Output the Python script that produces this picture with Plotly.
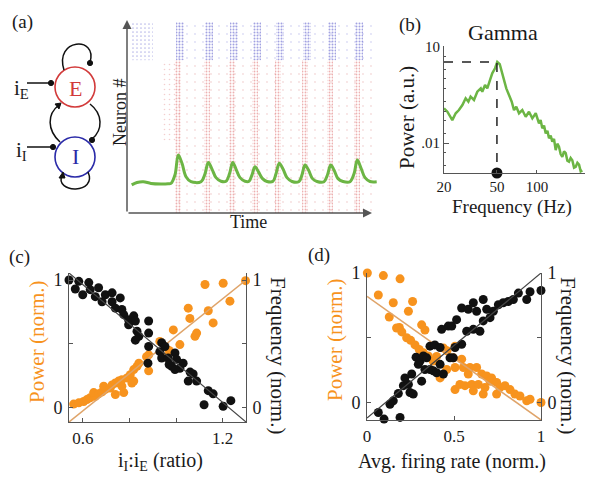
import math
import plotly.graph_objects as go

W, H = 600, 481
def px(x): return x / W
def py(y): return 1 - y / H

FONT = "Liberation Serif, Times New Roman, DejaVu Serif, serif"
DARK = "#1a1a1a"
AX = "#555555"
ORANGE = "#f7931e"
ORANGE_FIT = "#dfa46a"
GREEN = "#6cb544"
RED = "#d23a3a"
BLUE = "#2a2aa8"

# ---------------- (a) raster + LFP ----------------
red_burst_t = [51, 80, 105, 128, 151, 178, 203, 230]
blue_burst_t = [53, 82, 107, 130, 153, 180, 205, 232]
lfp_t = [4.7, 10, 16.3, 24, 34, 41,
         44, 48, 51.3, 55, 59, 64,
         74, 78, 81.3, 85, 89, 94,
         99, 102.5, 105.7, 109, 113, 118,
         122, 125, 128, 131.5, 135.5, 140,
         146, 149, 152.3, 156, 160, 165,
         172, 175, 178, 181.5, 185.5, 190,
         197, 200.5, 203.7, 207, 211, 216,
         223, 227, 230.3, 234, 238, 243, 249.7]
lfp_v = [14.7, 16.0, 16.4, 15.5, 15.2, 15.3,
         15.5, 20, 30.4, 26, 19, 16.4,
         16.4, 20.5, 26.5, 23, 18.5, 16.6,
         16.6, 20.5, 26.5, 23, 18.5, 16.6,
         16.6, 20, 24.2, 21.5, 18, 16.5,
         16.6, 20.5, 26, 23, 18.5, 16.5,
         16.5, 20, 25.1, 22.5, 18, 16.5,
         16.4, 20, 25.1, 22.5, 18, 16.5,
         16.4, 20.5, 27.7, 23.5, 18.5, 16.5, 16.4]

# ---------------- (b) power spectrum ----------------
spec_freq = [20, 21.2, 23.1, 24.5, 25.9, 27.5, 29.1, 30.5, 31.7, 33.6, 35.6, 37.8, 38.8, 40.7,
             42.3, 44.1, 46.1, 48.4, 50.3, 52.5, 54.3, 56.5, 58.8, 61.6, 64.6, 67.2, 69.9,
             73.3, 77.6, 82.3, 87.1, 92.3, 97.9, 103.6, 106.5, 109.7, 113, 116.4, 119.8, 123.2,
             126.8, 130.4, 134.3, 138.3, 142.3, 146.4, 150.7, 155.1, 159.8, 164.5, 169.3,
             174.2, 179.2, 184.4, 190, 195.6, 201.4, 207.2, 213.2, 219.3]
spec_power = [0.121, 0.095, 0.052, 0.085, 0.107, 0.154, 0.249, 0.195, 0.280, 0.221, 0.401,
              0.512, 0.401, 0.649, 0.512, 0.93, 1.51, 2.16, 3.4, 2.9, 1.69, 0.93, 0.51, 0.316,
              0.195, 0.107, 0.136, 0.085, 0.107, 0.066, 0.095, 0.059, 0.085, 0.041, 0.052,
              0.029, 0.035, 0.020, 0.024, 0.014, 0.017, 0.011, 0.0135, 0.006, 0.0095, 0.0077,
              0.0045, 0.0037, 0.0055, 0.0048, 0.0028, 0.0026, 0.0034, 0.0029, 0.0017, 0.0018,
              0.0024, 0.0021, 0.0013, 0.0014]
gamma_band = [30, 100]
peak_freq = 50
peak_power = 3.4

# ---------------- (c) ----------------
c_freq_x = [0.54, 0.582, 0.625, 0.567, 0.599, 0.631, 0.667, 0.653, 0.696, 0.725, 0.682, 0.725,
            0.76, 0.739, 0.767, 0.775, 0.796, 0.818, 0.825, 0.796, 0.832, 0.84, 0.825, 0.882,
            0.882, 0.882, 0.879, 0.938, 0.952, 0.93, 0.938, 0.966, 0.995, 1.002, 0.981, 1.016,
            0.995, 1.073, 1.052, 1.088, 1.138, 1.159, 1.12, 1.202, 1.235, 1.303, 1.03, 1.06, 0.97]
c_freq_y = [1.0, 0.99, 0.98, 0.93, 0.885, 0.925, 0.94, 0.87, 0.885, 0.90, 0.83, 0.83, 0.86,
            0.78, 0.77, 0.73, 0.69, 0.72, 0.68, 0.65, 0.60, 0.56, 0.53, 0.68, 0.585, 0.48, 0.35,
            0.51, 0.48, 0.44, 0.39, 0.39, 0.43, 0.38, 0.325, 0.31, 0.30, 0.265, 0.21, 0.21,
            0.135, 0.11, 0.025, 0.013, 0.057, 0.0, 0.35, 0.28, 0.34]
c_pow_x = [0.539, 0.56, 0.582, 0.603, 0.617, 0.631, 0.653, 0.646, 0.667, 0.682, 0.696, 0.689,
           0.717, 0.725, 0.739, 0.753, 0.767, 0.775, 0.739, 0.767, 0.789, 0.803, 0.81, 0.818,
           0.832, 0.84, 0.818, 0.882, 0.882, 0.93, 0.988, 1.016, 1.052, 1.059, 1.081, 1.088,
           1.138, 1.159, 1.124, 1.202, 1.231, 1.298, 0.873, 0.95, 0.97]
c_pow_y = [0.013, 0.03, 0.04, 0.05, 0.065, 0.08, 0.09, 0.12, 0.11, 0.125, 0.145, 0.17, 0.155,
           0.18, 0.195, 0.21, 0.22, 0.12, 0.105, 0.17, 0.235, 0.26, 0.195, 0.30, 0.325, 0.35,
           0.21, 0.415, 0.29, 0.52, 0.61, 0.495, 0.78, 0.70, 0.56, 0.585, 0.76, 0.665, 0.965,
           0.975, 0.835, 0.995, 0.40, 0.40, 0.45]
c_pow_fit_x, c_pow_fit_y = [0.54, 1.30], [-0.11, 1.0]
c_freq_fit_x, c_freq_fit_y = [0.54, 1.30], [1.055, -0.11]

# ---------------- (d) ----------------
d_pow_x = [0.002, 0.094, 0.19, 0.065, 0.151, 0.262, 0.238, 0.128, 0.186, 0.20, 0.228, 0.251,
           0.276, 0.314, 0.30, 0.324, 0.352, 0.42, 0.333, 0.40, 0.458, 0.17, 0.44, 0.46, 0.38,
           0.506, 0.496, 0.506, 0.544, 0.554, 0.582, 0.592, 0.63, 0.659, 0.688, 0.716, 0.707,
           0.745, 0.764, 0.793, 0.822, 0.85, 0.879, 0.918, 0.937, 1.0, 0.506, 0.534, 0.563,
           0.602, 0.64, 0.611, 0.668, 0.678, 0.745]
d_pow_y = [1.0, 0.98, 0.955, 0.83, 0.77, 0.78, 0.705, 0.66, 0.58, 0.545, 0.50, 0.48, 0.445,
           0.60, 0.41, 0.385, 0.36, 0.19, 0.56, 0.355, 0.255, 0.575, 0.42, 0.40, 0.32,
           0.435, 0.345, 0.27, 0.335, 0.27, 0.22, 0.27, 0.27, 0.22, 0.205, 0.19, 0.165,
           0.155, 0.115, 0.13, 0.10, 0.065, 0.05, 0.013, 0.025, 0.0, 0.10, 0.14, 0.13,
           0.14, 0.14, 0.09, 0.065, 0.115, 0.065]
d_freq_x = [0.002, 0.065, 0.098, 0.19, 0.132, 0.151, 0.18, 0.209, 0.238, 0.247, 0.266, 0.218,
            0.257, 0.314, 0.282, 0.295, 0.305, 0.324, 0.343, 0.333, 0.362, 0.381, 0.40, 0.42,
            0.439, 0.362, 0.39, 0.42, 0.429, 0.467, 0.477, 0.487, 0.515, 0.544, 0.582, 0.611,
            0.63, 0.668, 0.688, 0.726, 0.755, 0.783, 0.812, 0.841, 0.87, 0.918, 0.937, 1.0,
            0.707, 0.668, 0.573, 0.611, 0.649, 0.544, 0.506, 0.496]
d_freq_y = [-0.14, -0.077, -0.128, -0.115, -0.013, 0.013, 0.07, 0.13, 0.14, 0.077, 0.065, 0.19,
            0.22, 0.165, 0.35, 0.295, 0.32, 0.36, 0.345, 0.255, 0.255, 0.245, 0.23, 0.295,
            0.22, 0.435, 0.445, 0.425, 0.565, 0.59, 0.345, 0.59, 0.64, 0.73, 0.72, 0.77,
            0.705, 0.795, 0.72, 0.705, 0.755, 0.77, 0.78, 0.795, 0.845, 0.795, 0.855, 0.865,
            0.655, 0.63, 0.55, 0.565, 0.55, 0.45, 0.425, 0.345]
d_pow_fit_x, d_pow_fit_y = [0, 1], [0.82, -0.135]
d_freq_fit_x, d_freq_fit_y = [0, 1], [-0.12, 1.0]

fig = go.Figure()

def dots(fg, size, solidity):
    return dict(color="rgba(0,0,0,0)", line=dict(width=0),
                pattern=dict(shape=".", fgcolor=fg, bgcolor="rgba(0,0,0,0)", size=size, solidity=solidity))

# raster: sparse background firing, then bursts
fig.add_trace(go.Bar(x=[150], y=[80], base=[0], width=[200], xaxis="x", yaxis="y",
                     marker=dots("#ecb8b8", 8, 0.04)))
fig.add_trace(go.Bar(x=[150], y=[20], base=[80], width=[200], xaxis="x", yaxis="y",
                     marker=dots("#b8b8ec", 8, 0.04)))
fig.add_trace(go.Bar(x=[43], y=[42], base=[38], width=[14], xaxis="x", yaxis="y",
                     marker=dots("#e6a0a0", 5, 0.08)))
fig.add_trace(go.Bar(x=[15], y=[20], base=[80], width=[22], xaxis="x", yaxis="y",
                     marker=dots("#7a7ad4", 4, 0.15)))
fig.add_trace(go.Bar(x=red_burst_t, y=[80] * len(red_burst_t), base=[0] * len(red_burst_t),
                     width=[6] * len(red_burst_t), xaxis="x", yaxis="y",
                     marker=dots("#dc6464", 3, 0.3)))
fig.add_trace(go.Bar(x=blue_burst_t, y=[20] * len(blue_burst_t), base=[80] * len(blue_burst_t),
                     width=[8] * len(blue_burst_t), xaxis="x", yaxis="y",
                     marker=dots("#4646c4", 3, 0.35)))
fig.add_trace(go.Scatter(x=lfp_t, y=lfp_v, mode="lines", xaxis="x", yaxis="y",
                         line=dict(color=GREEN, width=3, shape="spline", smoothing=1.0),
                         cliponaxis=False))

# (b)
y2range = [-2.9375, 1.031]
floor_power = 10 ** y2range[0]
fig.add_trace(go.Scatter(x=spec_freq, y=spec_power, mode="lines", xaxis="x2", yaxis="y2",
                         line=dict(color=GREEN, width=2.5)))
fig.add_trace(go.Scatter(x=[spec_freq[0], peak_freq, peak_freq], y=[peak_power, peak_power, floor_power],
                         mode="lines", xaxis="x2", yaxis="y2",
                         line=dict(color="#222", width=1.5, dash="dash")))
fig.add_trace(go.Scatter(x=[spec_freq[0]], y=[peak_power], mode="markers", xaxis="x2", yaxis="y2",
                         marker=dict(color=ORANGE, size=10), cliponaxis=False))
fig.add_trace(go.Scatter(x=[peak_freq], y=[floor_power], mode="markers", xaxis="x2", yaxis="y2",
                         marker=dict(color="#111", size=11), cliponaxis=False))

# (c)
fig.add_trace(go.Scatter(x=c_pow_x, y=c_pow_y, mode="markers", xaxis="x3", yaxis="y3",
                         marker=dict(color=ORANGE, size=9), cliponaxis=False))
fig.add_trace(go.Scatter(x=c_pow_fit_x, y=c_pow_fit_y, mode="lines", xaxis="x3", yaxis="y3",
                         line=dict(color=ORANGE_FIT, width=1.5), cliponaxis=False))
fig.add_trace(go.Scatter(x=c_freq_x, y=c_freq_y, mode="markers", xaxis="x3", yaxis="y4",
                         marker=dict(color="#111", size=9), cliponaxis=False))
fig.add_trace(go.Scatter(x=c_freq_fit_x, y=c_freq_fit_y, mode="lines", xaxis="x3", yaxis="y4",
                         line=dict(color="#444", width=1.2), cliponaxis=False))

# (d)
fig.add_trace(go.Scatter(x=d_pow_x, y=d_pow_y, mode="markers", xaxis="x5", yaxis="y5",
                         marker=dict(color=ORANGE, size=9), cliponaxis=False))
fig.add_trace(go.Scatter(x=d_pow_fit_x, y=d_pow_fit_y, mode="lines", xaxis="x5", yaxis="y5",
                         line=dict(color=ORANGE_FIT, width=1.5), cliponaxis=False))
fig.add_trace(go.Scatter(x=d_freq_x, y=d_freq_y, mode="markers", xaxis="x5", yaxis="y6",
                         marker=dict(color="#111", size=9), cliponaxis=False))
fig.add_trace(go.Scatter(x=d_freq_fit_x, y=d_freq_fit_y, mode="lines", xaxis="x5", yaxis="y6",
                         line=dict(color="#444", width=1.2), cliponaxis=False))

tickfont = dict(family=FONT, size=18, color=DARK)
xtickfont = dict(family=FONT, size=17, color=DARK)
hidden = dict(visible=False, showgrid=False, zeroline=False, fixedrange=True)
def box_axis(**kw):
    d = dict(showline=True, linecolor=AX, linewidth=1, ticks="inside", ticklen=4, tickcolor=AX,
             showgrid=False, zeroline=False, tickfont=tickfont, fixedrange=True)
    d.update(kw)
    return d

small_tick = dict(family=FONT, size=15, color=DARK)
layout = dict(
    width=W, height=H, autosize=False, margin=dict(l=0, r=0, t=0, b=0, pad=0, autoexpand=False),
    paper_bgcolor="white", plot_bgcolor="rgba(0,0,0,0)", showlegend=False, barmode="overlay",
    font=dict(family=FONT, color=DARK),
    xaxis=dict(domain=[px(127), px(377)], range=[0, 250], anchor="y", **hidden),
    yaxis=dict(domain=[py(213), py(22)], range=[0, 100], anchor="x", **hidden),
    xaxis2=box_axis(domain=[px(444), px(585)], type="log",
                    range=[math.log10(20), math.log10(20) + 141 / 133], anchor="y2",
                    tickvals=[20, 50, 100], ticktext=["20", "50", "100"], ticklen=3,
                    tickfont=small_tick),
    yaxis2=box_axis(domain=[py(173), py(46)], type="log", range=y2range, anchor="x2",
                    tickvals=[10, 0.01], ticktext=["10", ".01"], ticklen=5, tickfont=small_tick,
                    minor=dict(ticks="inside", ticklen=2, tickcolor=AX,
                               tickvals=[5, 2, 1, 0.5, 0.2, 0.1, 0.05, 0.02, 0.005, 0.002])),
    xaxis3=box_axis(domain=[px(69), px(246)], range=[0.54, 1.30], anchor="y3",
                    tickvals=[0.6, 0.8, 1.0, 1.2], ticktext=["0.6", "", "", "1.2"],
                    ticklabelstandoff=1, tickfont=xtickfont),
    yaxis3=box_axis(domain=[py(422), py(273)], range=[-0.11, 1.055], anchor="x3",
                    tickvals=[0, 0.5, 1], ticktext=["0", "", "1"], ticklabelstandoff=2),
    yaxis4=box_axis(overlaying="y3", side="right", range=[-0.11, 1.055], anchor="x3",
                    tickvals=[0, 0.5, 1], ticktext=["0", "", "1"], ticklabelstandoff=2),
    xaxis5=box_axis(domain=[px(367), px(541)], range=[0, 1], anchor="y5",
                    tickvals=[0, 0.5, 1], ticktext=["0", "0.5", "1"], ticklabelstandoff=1,
                    tickfont=xtickfont),
    yaxis5=box_axis(domain=[py(420), py(273)], range=[-0.135, 1.0], anchor="x5",
                    tickvals=[0, 0.5, 1], ticktext=["0", "", "1"], ticklabelstandoff=2),
    yaxis6=box_axis(overlaying="y5", side="right", range=[-0.135, 1.0], anchor="x5",
                    tickvals=[0, 0.5, 1], ticktext=["0", "", "1"], ticklabelstandoff=2),
)
fig.update_layout(**layout)

def txt(x, y, s, size=21, color=DARK, angle=0, xa="center", ya="middle"):
    return dict(x=px(x), y=py(y), xref="paper", yref="paper", text=s, showarrow=False,
                font=dict(family=FONT, size=size, color=color), textangle=angle,
                xanchor=xa, yanchor=ya)

ann = [
    txt(22, 22, "(a)", 19), txt(410, 25, "(b)", 19), txt(19, 257, "(c)", 19), txt(319, 255, "(d)", 19),
    txt(120, 113, "Neuron #", 18, angle=-90), txt(248, 222, "Time", 18),
    txt(503, 32, "Gamma", 22), txt(407, 118, "Power (a.u.)", 21, angle=-90),
    txt(512, 207, "Frequency (Hz)", 19),
    txt(37, 342, "Power (norm.)", 21, color=ORANGE, angle=-90),
    txt(278, 355, "Frequency (norm.)", 21, angle=90),
    txt(160, 461, "i<sub>I</sub>:i<sub>E</sub> (ratio)", 20),
    txt(335, 340, "Power (norm.)", 21, color=ORANGE, angle=-90),
    txt(568, 355, "Frequency (norm.)", 21, angle=90),
    txt(452, 461, "Avg. firing rate (norm.)", 20),
    txt(75, 88, "E", 22, color=RED), txt(75, 157, "I", 22, color=BLUE),
    txt(21, 89, "i<sub>E</sub>", 21), txt(21, 151, "i<sub>I</sub>", 21),
]
# raster axis arrows
ann.append(dict(x=px(372), y=py(213), xref="paper", yref="paper", ax=-245, ay=0, text="",
                showarrow=True, arrowhead=2, arrowsize=1.2, arrowwidth=1.5, arrowcolor=AX))
ann.append(dict(x=px(127), y=py(20), xref="paper", yref="paper", ax=0, ay=193, text="",
                showarrow=True, arrowhead=2, arrowsize=1.2, arrowwidth=1.5, arrowcolor=AX))
fig.update_layout(annotations=ann)

def P(x, y): return f"{px(x):.5f},{py(y):.5f}"
def path(d, **kw):
    s = dict(type="path", xref="paper", yref="paper", path=d, line=dict(color="#111", width=1.5))
    s.update(kw)
    return s
def circ(cx, cy, r, color, width=1.6, fill="rgba(0,0,0,0)"):
    return dict(type="circle", xref="paper", yref="paper", x0=px(cx - r), x1=px(cx + r),
                y0=py(cy + r), y1=py(cy - r), line=dict(color=color, width=width), fillcolor=fill)
def tri(a, b, c):
    return path(f"M{P(*a)} L{P(*b)} L{P(*c)} Z", fillcolor="#111", line=dict(color="#111", width=1))

shapes = [
    dict(type="rect", xref="x2", yref="paper", x0=math.log10(gamma_band[0]), x1=math.log10(gamma_band[1]),
         y0=py(173), y1=py(43), fillcolor="#dcdcdc", line=dict(width=0), layer="below"),
    circ(75, 87, 20, RED), circ(75, 157, 20, BLUE),
    # inputs
    path(f"M{P(27, 83)} L{P(51, 83)}"), circ(51, 83, 2.6, "#111", 1, "#111"),
    path(f"M{P(27, 147)} L{P(53, 147)}"), circ(53, 147, 2.6, "#111", 1, "#111"),
    # E self loop
    path(f"M{P(64, 70)} C{P(54, 38)} {P(98, 36)} {P(90, 62)}"), circ(90, 63, 2.6, "#111", 1, "#111"),
    # I -> E (left)
    path(f"M{P(60, 142)} C{P(47, 130)} {P(47, 114)} {P(59, 105)}"),
    tri((61, 103), (55, 104), (59, 109)),
    # E -> I (right)
    path(f"M{P(90, 104)} C{P(103, 114)} {P(103, 130)} {P(92, 139)}"), circ(92, 140, 2.6, "#111", 1, "#111"),
    # I self loop
    path(f"M{P(88, 172)} C{P(98, 194)} {P(54, 194)} {P(62, 175)}"),
    tri((63, 172), (59, 178), (65, 178)),
]
fig.update_layout(shapes=shapes)

fig.write_html("out.html", config={"displayModeBar": False},
               post_script="document.body.style.margin='0px';")
